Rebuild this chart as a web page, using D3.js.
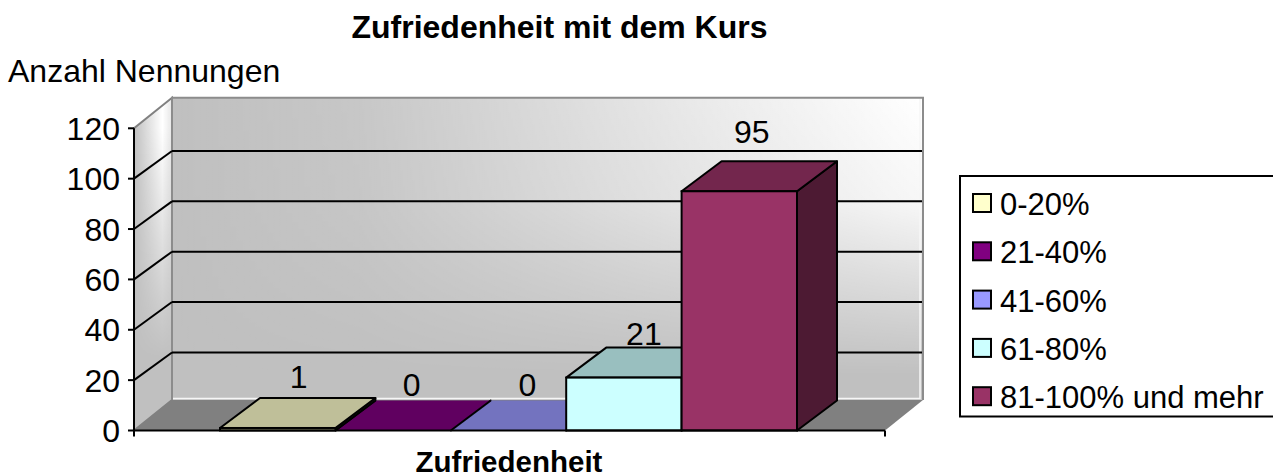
<!DOCTYPE html>
<html><head><meta charset="utf-8">
<script src="https://cdn.jsdelivr.net/npm/d3@7"></script>
<style>html,body{margin:0;padding:0;background:#fff;overflow:hidden}svg{display:block}text{font-family:"Liberation Sans",Arial,sans-serif;fill:#000}</style>
</head><body><svg id="c" width="1273" height="475"></svg>
<script>
const categories = ["0-20%","21-40%","41-60%","61-80%","81-100% und mehr"];
const values = [1,0,0,21,95];
const colors = ["#FFFFCC","#800080","#9999FF","#CCFFFF","#993366"];
const yTicks = [0,20,40,60,80,100,120];
const titleText = "Zufriedenheit mit dem Kurs";
const yTitle = "Anzahl Nennungen";
const xTitle = "Zufriedenheit";

const svg = d3.select("#c");
const y = d3.scaleLinear().domain([0,120]).range([430.5,128.3]);
const xAxis = d3.scaleLinear().domain([0,1]).range([134,885]);
const x = d3.scaleBand().domain(categories).range([220,797]).padding(0);
const dx = 38, dy = -30.5, gridDy = -27.7, bdx = 40, bdy = -30;
const fs = 32, lw = 2;
const labelDx = [21,18.5,19,20,12.5], labelDy = [-40,-34.5,-34.5,-33,-48.5];

const defs = svg.append("defs");
const g1 = defs.append("linearGradient").attr("id","wallH");
g1.append("stop").attr("offset","0").attr("stop-color","#fff").attr("stop-opacity",0);
g1.append("stop").attr("offset","0.25").attr("stop-color","#fff").attr("stop-opacity",0.12);
g1.append("stop").attr("offset","0.6").attr("stop-color","#fff").attr("stop-opacity",0.55);
g1.append("stop").attr("offset","1").attr("stop-color","#fff").attr("stop-opacity",1);
const gv = defs.append("linearGradient").attr("id","wallV").attr("x2",0).attr("y2",1);
gv.append("stop").attr("offset","0").attr("stop-color","#fff");
gv.append("stop").attr("offset","0.35").attr("stop-color","#ddd");
gv.append("stop").attr("offset","0.92").attr("stop-color","#000");
gv.append("stop").attr("offset","1").attr("stop-color","#000");
const wallTop = y(120)+dy, wallH = y(0)-y(120);
defs.append("mask").attr("id","wallM").attr("maskUnits","userSpaceOnUse")
  .attr("x",0).attr("y",0).attr("width",1273).attr("height",475)
  .append("rect").attr("x",172).attr("y",wallTop).attr("width",751).attr("height",wallH).attr("fill","url(#wallV)");
const gs = defs.append("linearGradient").attr("id","sideH");
gs.append("stop").attr("offset","0").attr("stop-color","#fff").attr("stop-opacity",0);
gs.append("stop").attr("offset","0.75").attr("stop-color","#fff").attr("stop-opacity",1);
gs.append("stop").attr("offset","1").attr("stop-color","#fff").attr("stop-opacity",0.6);
const gsv = defs.append("linearGradient").attr("id","sideV").attr("gradientUnits","userSpaceOnUse").attr("x1",0).attr("y1",128).attr("x2",0).attr("y2",400);
gsv.append("stop").attr("offset","0").attr("stop-color","#fff");
gsv.append("stop").attr("offset","0.85").attr("stop-color","#000");
defs.append("mask").attr("id","sideM").attr("maskUnits","userSpaceOnUse")
  .attr("x",0).attr("y",0).attr("width",1273).attr("height",475)
  .append("rect").attr("x",134).attr("y",90).attr("width",38).attr("height",340).attr("fill","url(#sideV)");

const poly = pts => "M"+pts.map(p=>p.join(",")).join("L")+"Z";
const x0 = xAxis(0), x1 = xAxis(1), yT = y(120), yB = y(0);

// walls and floor
const leftWall = poly([[x0,yB],[x0,yT],[x0+dx,yT+dy],[x0+dx,yB+dy]]);
svg.append("path").attr("d",leftWall).attr("fill","#c0c0c0");
svg.append("path").attr("d",leftWall).attr("fill","url(#sideH)").attr("mask","url(#sideM)");
svg.append("path").attr("d",leftWall).attr("fill","none").attr("stroke","#808080").attr("stroke-width",lw);
svg.append("rect").attr("x",x0+dx).attr("y",wallTop).attr("width",x1-x0).attr("height",wallH).attr("fill","#c0c0c0");
svg.append("rect").attr("x",x0+dx).attr("y",wallTop).attr("width",x1-x0).attr("height",wallH).attr("fill","url(#wallH)").attr("mask","url(#wallM)");
svg.append("path").attr("d",`M${x0+dx},${wallTop+wallH-1.5}H${x1+dx-3}V${wallTop}`).attr("fill","none").attr("stroke","#f6f6f6").attr("stroke-width",1.5);
svg.append("path").attr("d",`M${x0+dx},${yB+dy}V${wallTop}H${x1+dx}V${yB+dy}`).attr("fill","none").attr("stroke","#8c8c8c").attr("stroke-width",lw);
svg.append("path").attr("d",poly([[x0,yB],[x0+dx,yB+dy],[x1+dx,yB+dy],[x1,yB]])).attr("fill","#808080");

// gridlines
const gridTicks = yTicks.filter(t=>t>0&&t<120);
svg.selectAll(".gb").data(gridTicks).join("line").attr("class","gb").attr("x1",x0+dx).attr("x2",x1+dx-1)
  .attr("y1",d=>y(d)+gridDy).attr("y2",d=>y(d)+gridDy).attr("stroke","#000").attr("stroke-width",lw);
svg.selectAll(".gs").data(gridTicks).join("line").attr("class","gs").attr("x1",x0).attr("x2",x0+dx)
  .attr("y1",d=>y(d)).attr("y2",d=>y(d)+gridDy).attr("stroke","#000").attr("stroke-width",lw);

// axes
svg.append("line").attr("x1",x0).attr("x2",x0).attr("y1",yT).attr("y2",yB+6).attr("stroke","#000").attr("stroke-width",lw);
svg.selectAll(".yt").data(yTicks).join("line").attr("class","yt").attr("x1",x0-6).attr("x2",x0).attr("y1",d=>y(d)).attr("y2",d=>y(d)).attr("stroke","#000").attr("stroke-width",lw);
svg.selectAll(".yl").data(yTicks).join("text").attr("class","yl").attr("x",120).attr("y",d=>y(d)+11.5).attr("text-anchor","end").attr("font-size",fs).text(d=>d);

// bars: flat ones first so that the taller ones sit over them
const shade = (col,k)=>{const c=d3.rgb(col);return d3.rgb(c.r*k,c.g*k,c.b*k).formatHex();};
const rows = categories.map((c,i)=>({c,v:values[i],col:colors[i],i}));
const ordered = rows.slice().sort((a,b)=>a.v-b.v||a.i-b.i);
const bars = svg.selectAll(".bar").data(ordered).join("g").attr("class","bar");
bars.append("path").attr("d",d=>{const l=x(d.c),r=l+x.bandwidth(),t=y(d.v);return poly([[r,yB],[r,t],[r+bdx,t+bdy],[r+bdx,yB+bdy]]);})
  .attr("fill",d=>shade(d.col,.5)).attr("stroke","#000").attr("stroke-width",lw).attr("stroke-linejoin","round");
bars.append("path").attr("d",d=>{const l=x(d.c),r=l+x.bandwidth(),t=y(d.v);return poly([[l,t],[l+bdx,t+bdy],[r+bdx,t+bdy],[r,t]]);})
  .attr("fill",d=>shade(d.col,.75)).attr("stroke",d=>d.v===0?"none":"#000").attr("stroke-width",lw).attr("stroke-linejoin","round");
bars.filter(d=>d.v===0).append("line").attr("x1",d=>x(d.c)).attr("y1",yB).attr("x2",d=>x(d.c)+bdx).attr("y2",yB+bdy).attr("stroke","#000").attr("stroke-width",lw);
bars.filter(d=>d.v>0).append("rect").attr("x",d=>x(d.c)).attr("y",d=>y(d.v)).attr("width",x.bandwidth()).attr("height",d=>yB-y(d.v))
  .attr("fill",d=>d.col).attr("stroke","#000").attr("stroke-width",lw);
svg.append("line").attr("x1",x0).attr("x2",x1).attr("y1",yB).attr("y2",yB).attr("stroke","#000").attr("stroke-width",lw);
svg.append("line").attr("x1",x1).attr("x2",x1).attr("y1",yB).attr("y2",yB+6).attr("stroke","#000").attr("stroke-width",lw);
// value labels
svg.selectAll(".vl").data(rows).join("text").attr("class","vl").attr("x",d=>x(d.c)+x.bandwidth()/2+labelDx[d.i])
  .attr("y",d=>y(d.v)+labelDy[d.i]).attr("text-anchor","middle").attr("font-size",fs).text(d=>d.v);

// titles
svg.append("text").attr("x",559.5).attr("y",38).attr("text-anchor","middle").attr("font-size",fs).attr("font-weight","bold").text(titleText);
svg.append("text").attr("x",8).attr("y",81.5).attr("font-size",fs).text(yTitle);
svg.append("text").attr("x",509).attr("y",472).attr("text-anchor","middle").attr("font-size",29.5).attr("font-weight","bold").text(xTitle);

// legend
svg.append("rect").attr("x",960).attr("y",176).attr("width",330).attr("height",240.5).attr("fill","#fff").attr("stroke","#000").attr("stroke-width",lw);
const lg = svg.selectAll(".lg").data(rows).join("g").attr("class","lg").attr("transform",(d,i)=>`translate(973,${194+i*48.3})`);
lg.append("rect").attr("width",18).attr("height",18).attr("fill",d=>d.col).attr("stroke","#000").attr("stroke-width",lw);
lg.append("text").attr("x",27).attr("y",21).attr("font-size",31).text(d=>d.c);
</script></body></html>
